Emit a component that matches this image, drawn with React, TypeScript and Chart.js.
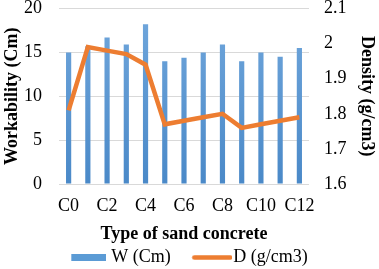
import React, { useEffect, useRef } from "react";
import { Chart, registerables } from "chart.js";

Chart.register(...registerables);

const categories = ["C0", "C1", "C2", "C3", "C4", "C5", "C6", "C7", "C8", "C9", "C10", "C11", "C12"];
const workability = [15, 15.7, 16.7, 15.9, 18.2, 14, 14.4, 15, 15.9, 14, 15, 14.5, 15.5];
const density = [1.81, 1.99, 1.98, 1.97, 1.94, 1.77, 1.78, 1.79, 1.8, 1.76, 1.77, 1.78, 1.79];
const leftTicks = [0, 5, 10, 15, 20];
const rightTicks = [1.6, 1.7, 1.8, 1.9, 2, 2.1];

const FONT = "'Liberation Serif', 'Times New Roman', serif";
const LEGEND_PAD = 13.5;

function makeRectIcon() {
  const c = document.createElement("canvas");
  c.width = 48;
  c.height = 7;
  const x = c.getContext("2d")!;
  x.fillStyle = "#5b9bd5";
  x.fillRect(13, 0, 35, 7);
  return c;
}

function makeLineIcon() {
  const c = document.createElement("canvas");
  c.width = 56;
  c.height = 7;
  const x = c.getContext("2d")!;
  x.strokeStyle = "#ed7d31";
  x.lineWidth = 4.5;
  x.lineCap = "round";
  x.beginPath();
  x.moveTo(18, 3.5);
  x.lineTo(54, 3.5);
  x.stroke();
  return c;
}

const legendShift = {
  id: "legendShift",
  afterLayout(chart: any) {
    const l = chart.legend;
    if (!l) return;
    const dy = -10;
    const dx = -4.5;
    l.top += dy;
    l.bottom += dy;
    l.left += dx;
    l.right += dx;
  },
};

export default function App() {
  const ref = useRef<HTMLCanvasElement>(null);
  useEffect(() => {
    if (!ref.current) return;
    const rectIcon = makeRectIcon();
    const lineIcon = makeLineIcon();
    const chart = new Chart(ref.current, {
      type: "bar",
      plugins: [legendShift],
      data: {
        labels: categories,
        datasets: [
          {
            type: "line",
            label: "D (g/cm3)",
            data: density,
            yAxisID: "y1",
            borderColor: "#ed7d31",
            backgroundColor: "#ed7d31",
            borderWidth: 4.5,
            pointRadius: 0,
            pointStyle: lineIcon as any,
            tension: 0,
            order: 0,
          },
          {
            type: "bar",
            label: "W (Cm)",
            data: workability,
            yAxisID: "y",
            backgroundColor: (ctx: any) => {
              const area = ctx.chart.chartArea;
              if (!area) return "#5b9bd5";
              const g = ctx.chart.ctx.createLinearGradient(0, area.top, 0, area.bottom);
              g.addColorStop(0, "#71a7dc");
              g.addColorStop(1, "#4a89c8");
              return g;
            },
            borderWidth: 0,
            barPercentage: 0.27,
            categoryPercentage: 1,
            pointStyle: rectIcon as any,
            order: 1,
          },
        ],
      },
      options: {
        animation: false,
        responsive: true,
        maintainAspectRatio: false,
        layout: { padding: { top: 0, right: 2, left: 2, bottom: -17.5 } },
        plugins: {
          tooltip: { enabled: false },
          legend: {
            position: "bottom",
            reverse: true,
            labels: {
              usePointStyle: true,
              pointStyleWidth: 40,
              boxHeight: 7,
              padding: LEGEND_PAD,
              color: "#000",
              font: { family: FONT, size: 18 },
            },
          },
        },
        scales: {
          x: {
            grid: { display: false, drawTicks: false },
            border: { display: false },
            afterFit: (s: any) => {
              s.height = 61;
            },
            ticks: {
              color: "#000",
              font: { family: FONT, size: 18 },
              maxRotation: 0,
              autoSkip: false,
              padding: 11,
              callback: (v: any, i: number) => (i % 2 === 0 ? categories[i] : ""),
            },
            title: {
              display: true,
              text: "Type of sand concrete",
              color: "#000",
              font: { family: FONT, size: 18, weight: "bold" },
              padding: { top: 0, bottom: 0 },
            },
          },
          y: {
            position: "left",
            min: 0,
            max: 20,
            afterBuildTicks: (s: any) => {
              s.ticks = leftTicks.map((v) => ({ value: v }));
            },
            afterFit: (s: any) => {
              s.width = 57;
              s.paddingTop = 8.5;
              s.paddingBottom = 0;
            },
            grid: { color: "#d9d9d9", drawTicks: false },
            border: { display: false },
            ticks: { color: "#000", font: { family: FONT, size: 18 }, padding: 17 },
            title: {
              display: true,
              text: "Workability (Cm)",
              color: "#000",
              font: { family: FONT, size: 18, weight: "bold" },
              padding: 0,
            },
          },
          y1: {
            position: "right",
            min: 1.6,
            max: 2.1,
            afterBuildTicks: (s: any) => {
              s.ticks = rightTicks.map((v) => ({ value: v }));
            },
            afterFit: (s: any) => {
              s.width = 68;
              s.paddingTop = 8.5;
              s.paddingBottom = 0;
            },
            grid: { display: false, drawTicks: false },
            border: { display: false },
            ticks: {
              color: "#000",
              font: { family: FONT, size: 18 },
              padding: 15,
              callback: (v: any) => String(Math.round(Number(v) * 10) / 10),
            },
            title: {
              display: true,
              text: "Density (g/cm3)",
              color: "#000",
              font: { family: FONT, size: 18, weight: "bold" },
              padding: 0,
            },
          },
        },
      },
    });
    return () => chart.destroy();
  }, []);
  return (
    <div style={{ position: "fixed", left: 0, top: 0, width: 379, height: 269, background: "#fff" }}>
      <canvas ref={ref} />
    </div>
  );
}
